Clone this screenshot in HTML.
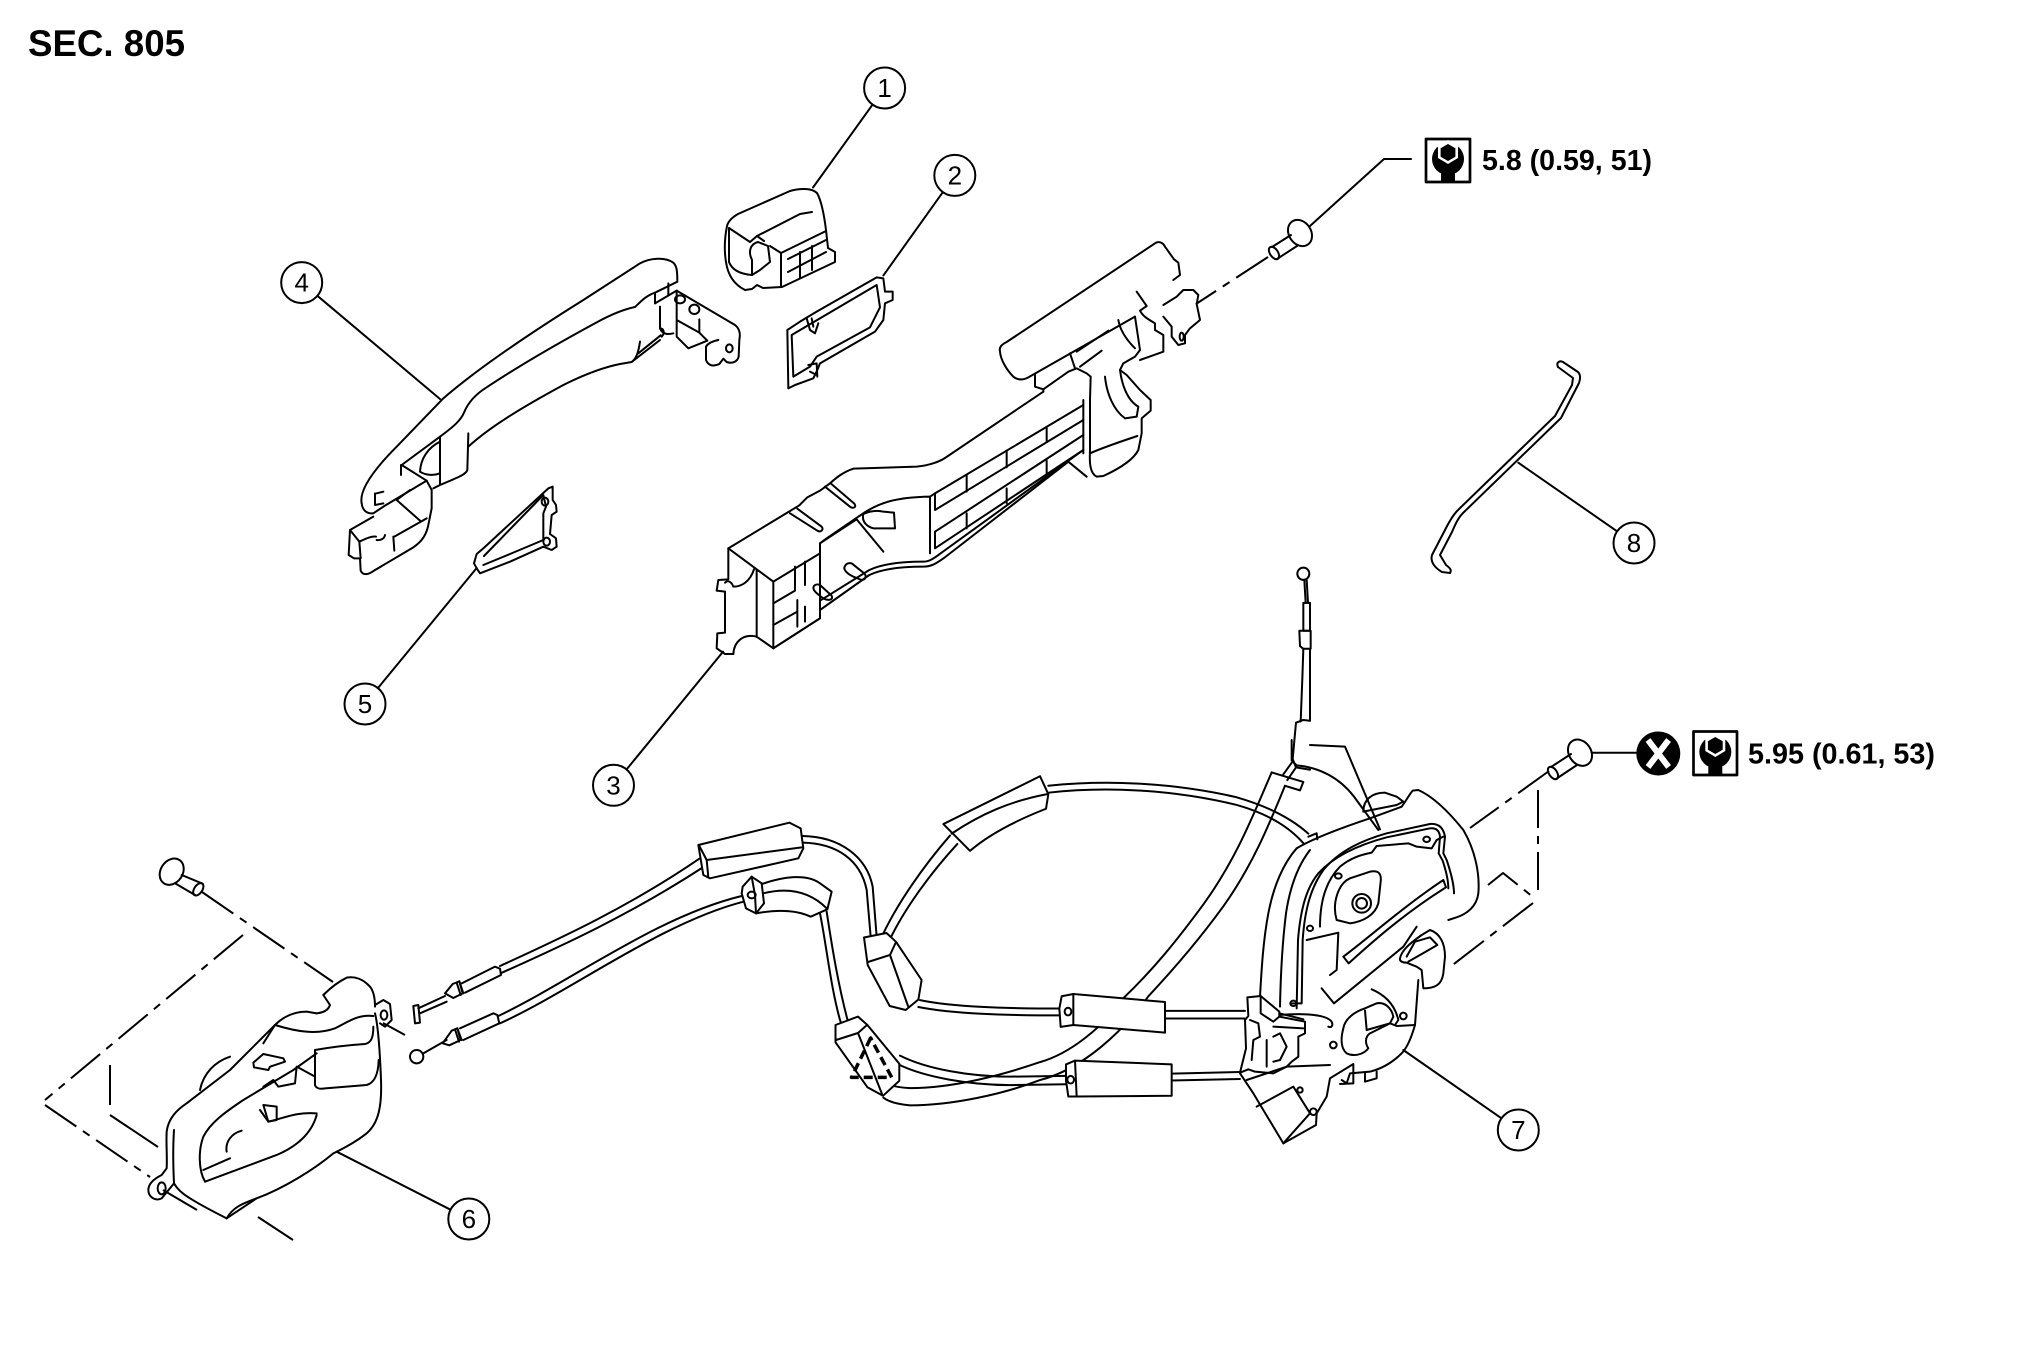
<!DOCTYPE html>
<html><head><meta charset="utf-8"><title>SEC. 805</title>
<style>
html,body{margin:0;padding:0;background:#fff;width:2020px;height:1371px;overflow:hidden}
svg{display:block}
.l *{vector-effect:non-scaling-stroke}
text{font-family:"Liberation Sans",Arial,sans-serif}
</style></head><body>
<svg width="2020" height="1371" viewBox="0 0 2020 1371" xmlns="http://www.w3.org/2000/svg">
<rect width="2020" height="1371" fill="#fff"/>
<text x="28" y="56" font-size="37" font-weight="bold" textLength="157" lengthAdjust="spacingAndGlyphs">SEC. 805</text>

<g class="l" fill="none" stroke="#000" stroke-width="2" stroke-linejoin="round" stroke-linecap="round">

<!-- ===== zoom10 group: cable loop, band, connectors ===== -->
<g transform="translate(870,560) scale(0.333333,0.382700)">
<ellipse cx="1300" cy="36" rx="18" ry="16"/>
<path d="M1303,52 L1307,112 M1310,52 L1314,112"/>
<path d="M1300,112 L1320,112 L1320,185 L1300,185 Z"/>
<path d="M1288,185 L1322,185 L1322,232 L1300,232 L1290,225 Z"/>
<path d="M1300,232 L1297,310 L1292,422 M1320,232 L1320,420"/>
<path d="M1278,425 L1268,520 L1278,542 L1320,548 M1278,425 L1300,418 L1320,420"/>
<path d="M1278,542 L1252,575 M1265,530 L1240,560"/>
<path d="M1205,555 C1150,665 1100,780 1000,900 C920,995 850,1070 760,1145 C700,1220 600,1290 510,1312 C400,1345 250,1380 120,1380 C80,1378 55,1372 40,1365"/>
<path d="M1245,590 C1200,685 1150,795 1060,905 C985,995 905,1075 835,1140 C760,1230 640,1330 510,1359 C400,1395 250,1425 120,1425 C80,1422 55,1415 40,1405"/>
<path d="M1205,555 L1300,580 L1290,602 L1245,590"/>
<path d="M35,985 C80,900 160,800 240,720"/>
<path d="M55,1000 C100,915 180,820 262,742"/>
<path d="M535,590 C700,575 900,580 1100,620 C1200,645 1270,680 1315,715"/>
<path d="M535,608 C700,592 900,598 1100,640 C1190,662 1255,695 1300,740"/>
<path d="M220,690 L510,565 L535,612 L528,650 C440,680 360,715 300,760 Z" fill="#fff"/>
<path d="M245,715 C330,665 420,630 530,612"/>
<path d="M150,1150 C250,1168 400,1172 580,1172"/>
<path d="M145,1168 C250,1186 400,1190 580,1190"/>
<path d="M885,1178 L1125,1178 M885,1198 L1125,1198"/>
<path d="M90,1295 C170,1330 300,1350 420,1350 L590,1348"/>
<path d="M85,1318 C165,1352 300,1372 420,1372 L590,1370"/>
<path d="M905,1342 L1110,1338 M905,1360 L1110,1356"/>
<path d="M575,1140 L610,1134 L885,1155 L885,1235 L610,1215 L572,1220 L568,1172 Z" fill="#fff"/>
<path d="M610,1134 L610,1215"/>
<ellipse cx="594" cy="1180" rx="10" ry="10"/>
<path d="M588,1318 L615,1308 L905,1318 L905,1400 L620,1402 L595,1402 L588,1360 Z" fill="#fff"/>
<path d="M615,1308 L620,1402"/>
<ellipse cx="602" cy="1358" rx="10" ry="10"/>
</g>

<!-- ===== zoom9 group: left cables ===== -->
<g transform="translate(440,760) scale(0.333333)">
<path d="M15,700 L38,672 L58,664 L68,700 L40,714 Z"/>
<path d="M50,668 L62,705 M58,664 L70,700"/>
<path d="M65,670 L165,620 L180,626 L183,645 L75,698"/>
<path d="M180,618 C350,540 560,445 778,296"/>
<path d="M186,638 C360,560 570,465 795,318"/>
<path d="M775,255 L1048,188 L1082,205 L1090,265 L1075,295 L810,355 L790,345 Z" fill="#fff"/>
<path d="M778,258 L800,300 L805,352 M800,300 L1085,262"/>
<path d="M1088,228 C1200,230 1280,290 1298,380 L1310,530"/>
<path d="M1088,248 C1190,250 1262,300 1280,390 L1292,530"/>
<path d="M8,850 L35,812 L52,805 L62,840 L28,856 Z"/>
<path d="M45,808 L57,845 M52,805 L65,840"/>
<path d="M60,805 L160,760 L172,765 L178,790 L70,840"/>
<path d="M175,768 C400,660 650,470 905,408"/>
<path d="M180,790 C400,690 660,490 910,425"/>
<path d="M965,372 C1030,350 1100,340 1140,370 L1175,395 L1162,448 L1112,470 C1080,455 1030,445 948,460" fill="#fff"/>
<path d="M970,400 C1030,385 1100,385 1160,445"/>
<path d="M908,380 L935,350 L965,370 L972,430 L948,460 L918,445 L905,400 Z" fill="#fff"/>
<path d="M935,350 L945,405 L948,460"/>
<ellipse cx="935" cy="405" rx="12" ry="10"/>
<path d="M1140,460 C1160,560 1172,680 1200,780 L1212,812"/>
<path d="M1160,455 C1176,560 1195,680 1228,800"/>
</g>

<!-- grommets near loop left -->
<path d="M864,937.5 L886.5,933 L896,941.8 L921.6,980 L918.4,999.5 L905.7,1010 L889.7,1006 L867.7,965 Z" fill="#fff"/>
<path d="M868,962 L890,955 L896,942 M890,955 L908,1006"/>
<path d="M835.5,1025 L858,1016.6 L867.4,1025 L899.3,1063.7 L899.3,1080.8 L883,1095.8 L867.4,1087.2 L835.5,1042.3 Z" fill="#fff"/>
<path d="M836,1040 L858,1033 L867,1025 M858,1033 L882,1094"/>
<path d="M870.6,1038 L851.5,1077.4 L891.7,1077.4 Z" stroke-width="3.5" stroke-dasharray="9 5" stroke-linecap="butt"/>

<!-- ===== zoom7 group: lock 7 ===== -->
<g transform="translate(1230,740) scale(0.333333)">
<path d="M240,15 L345,20 L450,268"/>
<path d="M185,0 L185,62 L200,76 C270,82 330,115 372,170 L445,270"/>
<path d="M400,215 C400,180 425,158 465,158 L500,170 L520,185 L500,195 Z"/>
<path d="M200,325 C250,295 330,265 420,235 L515,200 C530,180 540,160 548,152 L565,150 C610,170 660,220 700,270 C735,330 750,400 745,460 C740,500 710,522 680,532 L655,540"/>
<path d="M235,290 L260,280 L262,298"/>
<path d="M200,325 C160,370 130,440 115,520 C100,600 95,680 90,770"/>
<path d="M240,330 C205,375 180,440 168,520 C158,600 152,700 150,800"/>
<path d="M185,790 L215,790 L218,600 C225,500 245,440 280,390 C330,330 400,300 470,280 L600,252 C625,250 640,262 645,290 L640,340 L650,360 C660,390 672,430 672,460"/>
<path d="M200,805 L204,600 C212,500 232,440 265,400 C315,345 395,312 470,292 L600,265 C618,263 628,272 630,290 L626,340 L638,362 C648,392 655,420 655,445"/>
<path d="M270,560 C270,480 290,420 330,380 C360,355 390,345 425,338 L440,318 L535,310 L560,320 L605,325 L620,300 L640,290"/>
<path d="M320,540 C305,490 325,430 360,415 L420,395 C445,390 455,400 452,425 L445,490 C435,525 400,545 360,550 Z"/>
<circle cx="395" cy="490" r="28"/>
<circle cx="395" cy="490" r="16"/>
<path d="M340,650 L356,670 C420,612 520,522 648,442 L640,420 C520,500 420,590 340,650 Z"/>
<path d="M230,600 L325,578 L320,690 L300,705"/>
<path d="M275,745 L312,790 L520,620 L560,560"/>
<path d="M425,748 C465,765 495,795 505,840 L495,855"/>
<path d="M340,865 C345,835 375,815 405,805 L440,790 C465,785 485,805 490,830 L480,850 L420,880 C405,890 405,910 415,925 C400,945 370,950 350,940 C332,925 332,895 340,865 Z"/>
<path d="M405,812 L410,870 L480,850"/>
<path d="M510,655 C515,630 540,610 575,585 L600,570 C630,580 645,610 645,650 L640,700 C635,735 615,745 580,745 L575,690 L560,680 L530,668 C515,668 508,662 510,655 Z"/>
<path d="M530,650 L555,605 L600,592 L622,615 L570,645 L535,665"/>
<path d="M565,720 L555,855 C542,900 530,925 515,940 C490,965 460,985 420,995 L360,1000 L350,1030 L335,1020"/>
<path d="M555,855 L500,858 L480,850"/>
<ellipse cx="590" cy="298" rx="10" ry="8"/>
<ellipse cx="325" cy="408" rx="10" ry="8"/>
<ellipse cx="240" cy="565" rx="9" ry="8"/>
<ellipse cx="190" cy="790" rx="9" ry="8"/>
<ellipse cx="520" cy="828" rx="10" ry="10"/>
<ellipse cx="310" cy="915" rx="10" ry="10"/>
<path d="M405,1000 L405,1025 L440,1015 L440,995"/>
</g>

<!-- ===== zoom12 group: lock connector / lower housing ===== -->
<g transform="translate(1040,880) scale(0.333333)">
<path d="M622,352 L662,348 L718,395 L718,410 L795,425 L795,460 L775,470 L775,530 L755,545 L740,560 L700,580 L645,575 L625,568 L600,578 L618,505 L615,420 L625,408 Z" fill="#fff"/>
<path d="M662,348 L662,400 L700,425 L718,410 M630,420 L655,430 L660,470 L640,480 L635,540 M680,480 L680,560 M700,470 L720,460 L740,500 L720,540 L700,545 M718,400 L790,418 M700,440 L790,445"/>
<path d="M718,405 C800,398 860,405 875,425 C880,435 875,445 865,440"/>
<path d="M600,580 L640,640 L730,790 L828,735 L830,700 L860,650 L870,595 L940,552 L940,610 L900,612"/>
<path d="M650,680 L760,620 L810,700 L730,790 M620,600 L740,560 L870,555"/>
<circle cx="780" cy="630" r="8"/>
<circle cx="820" cy="695" r="10"/>
</g>

<!-- ===== zoom5 group: handle 4, gasket 5 ===== -->
<g transform="translate(330,160) scale(0.333333)">
<path d="M95,1030 C88,995 120,940 200,860 L340,715 C450,620 600,520 760,420 L930,310 C960,294 1005,290 1030,308 C1040,318 1042,330 1042,365 L975,398"/>
<path d="M215,915 L330,830 C370,800 392,782 402,758 C414,728 438,702 470,682 C560,622 680,552 800,487 C850,460 890,446 915,441 C930,428 945,408 975,398 L975,430"/>
<path d="M1015,370 L1015,405"/>
<path d="M415,860 C480,800 580,740 700,675 C760,645 820,622 870,612 L905,606 C918,596 925,580 930,545"/>
<path d="M905,606 L990,540 M925,580 L992,526 M990,505 C1002,505 1005,520 995,530"/>
<path d="M95,1030 C97,1050 110,1062 130,1060 L160,1040 L240,992 L290,962"/>
<path d="M60,1110 L130,1070"/>
<path d="M60,1110 L56,1185 L72,1195 L90,1195 L92,1232 C98,1246 112,1246 132,1232 L250,1162 C275,1145 290,1125 296,1090 L305,1045 L305,990 L290,962"/>
<path d="M60,1110 L88,1145 L92,1195"/>
<path d="M88,1145 C110,1135 125,1128 138,1130 M140,1140 C152,1142 163,1136 165,1125"/>
<path d="M190,1130 L193,1172 M193,1130 L290,1075"/>
<path d="M135,1000 L135,1035 L160,1030 M140,1000 L160,995"/>
<path d="M200,1020 L270,1082 M240,990 L200,1020"/>
<path d="M213,915 L213,945 M215,915 L290,962"/>
<path d="M270,935 C272,895 295,862 330,845 M270,935 C285,945 310,948 330,940"/>
<path d="M330,830 L330,975 M415,820 L412,930 C408,942 395,948 330,975 L310,985"/>
<path d="M975,430 L1040,392 L1215,495 C1228,505 1232,520 1228,540 L1226,590 C1222,605 1208,612 1190,606 L1180,596 L1168,612 C1150,620 1135,618 1128,600 L1128,560 C1135,548 1150,543 1165,540"/>
<path d="M990,440 L990,505 C996,520 1010,525 1030,520"/>
<path d="M1040,392 L1040,480 L1040,530 L1075,565 L1132,542 M1040,480 L1108,518 L1132,542 M1108,478 L1108,518"/>
<ellipse cx="1050" cy="418" rx="15" ry="12"/>
<ellipse cx="1093" cy="448" rx="15" ry="14"/>
<ellipse cx="1198" cy="565" rx="10" ry="12"/>
<path d="M440,1225 L432,1210 L440,1182 L460,1165 L655,985 L668,980 L668,1020 L678,1035 L680,1055 L665,1065 L660,1122 L678,1135 L680,1160 L665,1170 L640,1160 L540,1205 L450,1240 Z"/>
<path d="M462,1188 L640,1005 L648,1040 L640,1060 L640,1140 L540,1182 L460,1215"/>
<ellipse cx="645" cy="1025" rx="10" ry="12"/>
<ellipse cx="650" cy="1145" rx="10" ry="12"/>
</g>

<!-- ===== zoom6 group: gasket 2, bracket 3 ===== -->
<g transform="translate(710,220) scale(0.333333)">
<path d="M235,505 L232,330 L270,305 L320,275 L500,172 L520,175 L525,215 L548,215 L548,240 L525,250 L520,300 L495,335 L330,430 L322,450 L310,475 L255,495 Z"/>
<path d="M245,345 L500,195 L510,262 L480,322 L320,410 L300,440 L250,470 Z"/>
<path d="M290,295 L300,330 L315,340 L325,310 M305,295 L310,320"/>
<path d="M295,435 L320,430 L322,470 M300,455 L320,465"/>
<path d="M55,985 L232,878 L268,856 L292,832 L330,812 L360,790 C380,772 400,756 430,746 L620,740 C660,736 690,724 705,714 L1000,515"/>
<path d="M55,985 L55,1078 L25,1080 L20,1112 L45,1115 L45,1238 L22,1240 L20,1285 L45,1302 L70,1302"/>
<path d="M45,1088 C55,1078 66,1088 70,1100 C95,1100 120,1085 132,1048"/>
<path d="M70,1302 C72,1265 100,1240 140,1250"/>
<path d="M55,985 L190,1085 L190,1285 L140,1250 L140,1050"/>
<path d="M190,1085 L330,1000 L330,1195 L190,1285"/>
<path d="M190,1150 L255,1112 M190,1215 L262,1175 M255,1040 L255,1112 M262,1140 L262,1220 M285,1025 L285,1095 M285,1160 L285,1205"/>
<path d="M240,880 L322,932 C332,938 342,930 335,920 L262,866"/>
<path d="M345,800 L420,860 C430,868 442,860 432,850 L362,790"/>
<path d="M330,1000 L330,970 L350,955 L445,890 C500,850 550,832 660,830 L660,1000"/>
<path d="M330,970 L440,898 L520,995"/>
<path d="M460,882 C455,900 465,918 490,925 L555,925 L552,878 L520,875 C500,870 478,874 460,882"/>
<path d="M405,1038 C398,1048 410,1060 430,1070 L455,1080 C470,1078 470,1065 460,1058 L425,1030 C415,1028 408,1032 405,1038 Z"/>
<path d="M312,1098 C305,1108 318,1120 340,1135 C358,1144 372,1138 364,1126 L330,1095 C322,1092 315,1094 312,1098 Z"/>
<path d="M190,1285 L330,1195 L330,1142 L478,1050 C520,1030 580,1025 640,1025 C660,1025 675,1012 692,1000 L1120,690"/>
<path d="M330,1170 L478,1065 C520,1045 580,1040 640,1040 C668,1040 684,1026 702,1014 L1075,725 L1130,770"/>
<path d="M660,830 L675,820 L1120,555"/>
<path d="M675,820 L675,870 L1120,600"/>
<path d="M675,935 L1120,645"/>
<path d="M675,935 L675,985 L1120,690"/>
<path d="M770,765 L770,815 M890,692 L890,742 M1010,622 L1010,665 M770,880 L770,925 M890,805 L890,850 M1010,722 L1010,765"/>
<path d="M1120,540 L1120,700"/>
<path d="M1140,540 L1140,690 C1138,730 1140,760 1160,770 L1180,768 C1230,745 1270,720 1285,690 L1295,640 L1295,595 L1322,572 L1322,540 L1292,512"/>
<path d="M1140,700 C1180,682 1240,662 1282,648"/>
<path d="M1185,470 C1190,520 1210,570 1245,595 L1280,590 L1285,560 C1250,540 1235,490 1230,450"/>
<path d="M870,395 C866,380 878,372 890,366 L1338,68 C1350,63 1360,70 1365,80 L1392,118 L1405,128 L1410,165 L1390,180"/>
<path d="M870,395 C872,420 890,450 910,470 C925,482 940,480 955,472 L1275,290"/>
<path d="M975,462 L975,500 L1000,508 L1075,455 L1100,445 L1130,460 L1142,470 L1140,540"/>
<path d="M1000,508 L1000,515"/>
<path d="M1080,400 L1095,445 M1100,395 L1195,332 M1110,440 L1175,392"/>
<path d="M1275,290 L1290,390 L1275,410 L1240,430 L1230,450 L1250,465 L1290,510"/>
<path d="M1280,215 L1310,258 L1290,272 C1300,292 1320,300 1335,310 L1335,330 L1360,345 L1360,395 L1290,420"/>
<path d="M1360,255 L1400,230 L1420,210 L1450,210 L1465,225 L1460,252 L1470,300 L1440,325 L1425,345 L1425,370 L1405,375 L1385,350 L1385,320 L1360,290"/>
<ellipse cx="1415" cy="350" rx="6" ry="12"/>
<path d="M1225,300 C1230,330 1250,360 1275,385"/>
</g>

<!-- cover 1 (abs) -->
<path d="M727,226 C725,236 724,250 726,262 C728,276 735,285 745,290 L752,289 L757,285 L763,288 L782,287 L835,262 L835,252 L828,248 L826,230 C824,214 821,200 817,193 C812,188 800,188 790,191 L738,214 C731,218 728,222 727,226 Z"/>
<path d="M729,228 L729,262 C732,270 740,274 752,275"/>
<path d="M729,228 L750,242 L757,236 L764,241"/>
<path d="M757,236 L800,214 L812,212"/>
<path d="M752,275 L752,260 C748,252 750,244 758,242 L768,246 L770,262 L760,270 Z"/>
<path d="M781,287 L781,253 L826,231"/>
<path d="M781,253 L770,246"/>
<path d="M788,259 L826,240 M788,272 L826,252 M800,252 L800,278 M812,246 L812,270"/>

<!-- ===== zoom8 group: handle 6 ===== -->
<g transform="translate(30,840) scale(0.333333)">
<path d="M880,465 C900,445 925,425 950,413 C975,408 1000,418 1020,440 C1032,455 1035,475 1035,500"/>
<path d="M880,465 L900,495 C895,510 880,518 860,520"/>
<path d="M735,555 C760,530 790,515 830,515 L860,520"/>
<path d="M735,555 C800,575 860,585 915,565 C955,545 985,522 1030,528"/>
<path d="M1035,495 L1060,480 L1080,492 L1085,540 L1065,560 L1050,550"/>
<ellipse cx="1062" cy="525" rx="10" ry="14"/>
<path d="M1035,520 C1045,560 1050,640 1053,720 C1056,800 1045,850 1010,880 C970,912 930,930 910,940 C850,990 760,1045 680,1075 C640,1090 610,1100 590,1135"/>
<path d="M855,630 L855,735 C858,745 870,748 885,745 L1010,735 C1035,728 1045,700 1046,660"/>
<path d="M855,630 C900,622 960,615 1005,612 C1025,608 1030,590 1030,560"/>
<path d="M590,1135 C560,1120 520,1100 480,1075 C455,1060 440,1045 432,1030 L395,1075 C375,1085 355,1070 355,1050 C355,1030 375,1015 395,1005 L410,985 C412,950 408,910 410,875 C415,835 440,810 470,790 L600,690 L735,555"/>
<path d="M432,1030 C430,990 428,930 432,870"/>
<ellipse cx="395" cy="1045" rx="12" ry="18"/>
<path d="M525,1025 C505,990 505,930 520,890 C540,850 580,820 640,780 L790,690 L860,640"/>
<path d="M525,1025 C580,1005 660,975 740,945 C800,920 845,880 860,825"/>
<path d="M520,990 L600,955"/>
<path d="M510,750 C520,700 555,665 600,650"/>
<path d="M670,668 L700,642 L760,655 L765,665 L720,680 L715,690 L672,682 Z"/>
<path d="M700,740 L730,720 L745,740 L795,730 L800,680 L855,710"/>
<path d="M690,810 L715,845 C760,835 800,815 860,820"/>
<path d="M715,845 L740,840 L740,800 L700,795 Z"/>
<path d="M590,935 C585,905 605,880 635,872"/>
<path d="M590,1135 L680,1075"/>
<path d="M700,610 L735,555"/>
<path d="M1150,498 L1165,495 L1170,548 L1155,550 Z"/>
<path d="M1165,505 L1245,468 M1170,520 L1250,485"/>
<circle cx="1160" cy="650" r="20"/>
<path d="M1180,640 L1250,600"/>
</g>

<!-- rod 8 -->
<path d="M1558,367 C1556,363 1559,360 1563,362 L1578,372 C1581,375 1580,380 1579,383 L1561,418 L1463,513 C1458,518 1455,525 1452,532 L1440,555 L1446,565 C1450,568 1452,570 1450,573"/>
<path d="M1558,367 L1573,378 L1572,385 L1555,416 L1458,510 C1452,516 1448,524 1445,530 L1432,555 C1430,562 1435,568 1442,572 L1450,573"/>

<!-- bolts -->
<ellipse cx="1300" cy="233" rx="11" ry="14" transform="rotate(-34 1300 233)"/>
<path d="M1272,247 L1291,235 M1277,259 L1297,246"/>
<ellipse cx="1274" cy="253" rx="4" ry="7" transform="rotate(-34 1274 253)"/>
<ellipse cx="1580" cy="752.7" rx="11" ry="14" transform="rotate(-34 1580 752.7)"/>
<path d="M1551,767 L1571,754 M1556,779 L1577,765"/>
<ellipse cx="1553" cy="773" rx="4" ry="7" transform="rotate(-34 1553 773)"/>
<ellipse cx="171.7" cy="871.7" rx="11" ry="14" transform="rotate(34 171.7 871.7)"/>
<path d="M181.7,875 L201.7,883.3 M175,883.3 L195,895"/>
<ellipse cx="198.3" cy="889.3" rx="4" ry="7" transform="rotate(34 198.3 889.3)"/>

<!-- chain lines -->
<g stroke-dasharray="38 8 8 8" stroke-linecap="butt">
<path d="M1268,257 L1196,304"/>
<path d="M1549,771 L1470,828"/>
<path d="M1538,790 L1538,897"/>
<path d="M1533,903 L1450,967"/>
<path d="M1488,885 L1503,873 L1533,897"/>
<path d="M202,892 L333,982"/>
<path d="M243,935 L45,1100"/>
<path d="M45,1105 L150,1177"/>
</g>
<path d="M110,1065 L110,1105 M110,1115 L158,1147 M163,1190 L197,1210 M258,1217 L293,1240 M383,1023 L405,1035" stroke-linecap="butt"/>

<!-- leaders -->
<path d="M872.6,104.6 L813,187.5"/>
<path d="M942.9,192.1 L883.4,275.4"/>
<path d="M317.4,295.8 L440,399"/>
<path d="M476.7,568 L378,688"/>
<path d="M626.5,769.5 L723,651.7"/>
<path d="M1518.3,462.7 L1617.1,531.3"/>
<path d="M1403.3,1050 L1501.5,1118.3"/>
<path d="M336.7,1151.7 L450.5,1209.7"/>
<path d="M1411,159 L1384,159 L1310,226"/>
<path d="M1591.7,752.7 L1636,752.7"/>

<!-- label circles -->
<g fill="#fff">
<circle cx="884.6" cy="88" r="20.5"/>
<circle cx="954.8" cy="175.4" r="20.5"/>
<circle cx="301.7" cy="282.6" r="20.5"/>
<circle cx="365" cy="704" r="20.5"/>
<circle cx="613.5" cy="785.3" r="20.5"/>
<circle cx="1634" cy="543" r="20.5"/>
<circle cx="1518.3" cy="1130" r="20.5"/>
<circle cx="468.8" cy="1219" r="20.5"/>
</g>

<!-- torque boxes -->
<rect x="1426" y="139" width="44" height="43" stroke-width="2.7" fill="#fff"/>
<rect x="1693.5" y="731.5" width="43.5" height="43.5" stroke-width="2.7" fill="#fff"/>
</g>

<!-- wrench icons -->
<g fill="#000" stroke="none">
<circle cx="1448" cy="159" r="16"/>
<rect x="1441" y="168" width="14" height="14"/>
<polygon points="1448,140 1458,146 1458,158 1448,164 1438,158 1438,146" fill="#fff"/>
<polygon points="1448,144 1455.4,148.3 1455.4,156.7 1448,161 1440.6,156.7 1440.6,148.3"/>
<circle cx="1715.3" cy="752" r="16"/>
<rect x="1708.3" y="761" width="14" height="14"/>
<polygon points="1715.3,733 1725.3,739 1725.3,751 1715.3,757 1705.3,751 1705.3,739" fill="#fff"/>
<polygon points="1715.3,737 1722.7,741.3 1722.7,749.7 1715.3,754 1707.9,749.7 1707.9,741.3"/>
<circle cx="1658.3" cy="753.5" r="22"/>
</g>
<path d="M1648,740 L1668.6,767 M1668.6,740 L1648,767" stroke="#fff" stroke-width="6" stroke-linecap="butt"/>

<!-- texts -->
<g font-size="26" text-anchor="middle" fill="#000">
<text x="884.6" y="97">1</text>
<text x="954.8" y="184.4">2</text>
<text x="301.7" y="291.6">4</text>
<text x="365" y="713">5</text>
<text x="613.5" y="794.3">3</text>
<text x="1634" y="552">8</text>
<text x="1518.3" y="1139">7</text>
<text x="468.8" y="1228">6</text>
</g>
<text x="1482" y="170" font-size="29" font-weight="bold" textLength="170" lengthAdjust="spacingAndGlyphs">5.8 (0.59, 51)</text>
<text x="1748" y="763.5" font-size="29" font-weight="bold" textLength="187" lengthAdjust="spacingAndGlyphs">5.95 (0.61, 53)</text>
</svg>
</body></html>
